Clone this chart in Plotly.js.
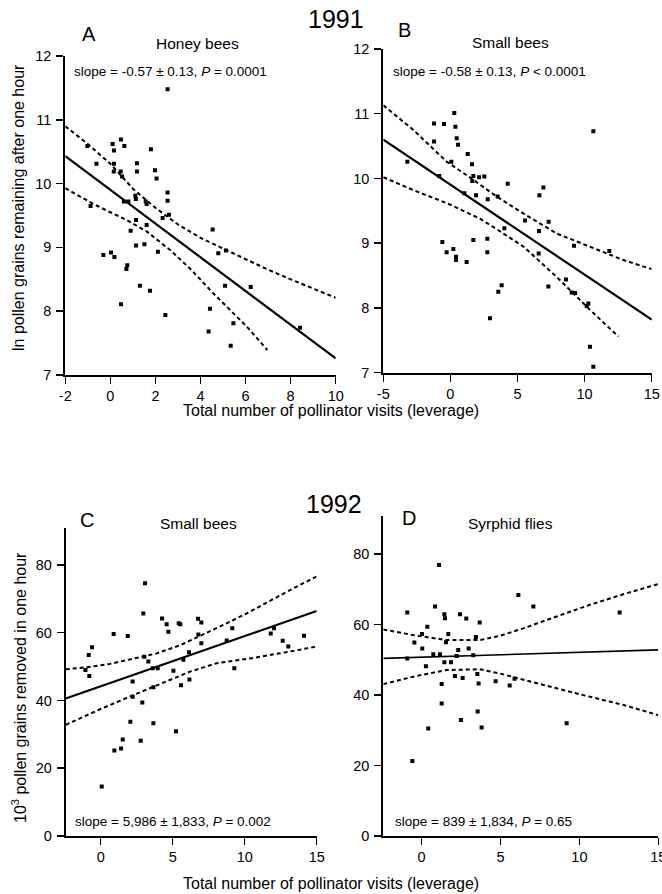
<!DOCTYPE html>
<html>
<head>
<meta charset="utf-8">
<script src="https://cdn.plot.ly/plotly-3.0.1.min.js"></script>
<style>html,body{margin:0;padding:0;background:#fff;}#chart{width:662px;height:894px;}</style>
</head>
<body>
<div id="chart"></div>
<script>
// ---------- Panel A: 1991, Honey bees ----------
const aX = [2.54,-1.02,-0.62,0.10,0.16,0.16,0.15,0.47,0.62,0.46,0.52,0.60,0.80,1.18,1.18,1.80,1.98,2.05,2.54,2.54,2.60,1.11,1.57,-0.88,1.14,1.61,0.90,2.32,4.54,4.79,5.13,1.14,1.51,2.11,-0.31,0.03,0.18,0.75,0.71,1.31,1.76,5.09,6.23,0.47,2.44,4.42,4.36,5.46,5.34,8.42,1.13,1.61];
const aY = [11.48,10.59,10.31,10.62,10.52,10.31,10.19,10.69,10.59,10.19,10.11,9.72,9.72,10.32,10.19,10.54,10.21,10.08,9.86,9.73,9.51,9.81,9.72,9.65,9.43,9.35,9.26,9.46,9.28,8.91,8.95,9.03,9.05,8.93,8.88,8.92,8.85,8.72,8.66,8.40,8.32,8.40,8.38,8.11,7.94,8.04,7.68,7.81,7.46,7.74,9.76,9.68];
const aFitX = [-2, 10];
const aFitY = [10.43, 7.26];
const aUpX = [-2.0,-1.0,0.0,1.0,2.0,3.0,4.0,5.0,6.0,7.0,8.0,9.0,10.0];
const aUpY = [10.90,10.62,10.31,9.92,9.62,9.36,9.15,8.98,8.81,8.65,8.50,8.36,8.21];
const aLoX = [-2.0,-0.76,0.72,1.61,2.65,3.53,4.57,6.05,6.97];
const aLoY = [9.93,9.68,9.43,9.25,8.96,8.67,8.28,7.76,7.39];

// ---------- Panel B: 1991, Small bees ----------
const bX = [-3.21,-1.22,-1.22,-0.48,-0.83,0.29,0.37,0.47,0.57,0.07,1.29,1.61,1.71,1.63,2.13,2.53,1.91,1.04,2.78,3.52,4.27,6.93,6.63,10.65,5.56,6.60,7.32,4.02,1.71,2.75,-0.60,-0.28,0.22,0.42,0.42,1.21,2.75,6.58,9.21,11.84,8.61,7.30,3.82,3.57,9.04,9.29,10.28,10.16,2.95,10.40,10.65];
const bY = [10.26,10.85,10.57,10.84,10.04,11.01,10.80,10.62,10.52,10.26,10.38,10.22,10.04,9.96,10.02,10.03,9.74,9.77,9.68,9.72,9.92,9.86,9.74,10.73,9.35,9.19,9.33,9.23,9.05,9.07,9.02,8.86,8.91,8.79,8.74,8.71,8.86,8.84,8.96,8.88,8.44,8.33,8.35,8.25,8.24,8.23,8.07,8.03,7.84,7.40,7.09];
const bFitX = [-5, 15];
const bFitY = [10.60, 7.82];
const bUpX = [-5,-2.76,-0.28,1.71,3.45,5.43,7.92,10.40,12.89,15];
const bUpY = [11.13,10.75,10.26,9.98,9.72,9.46,9.15,8.95,8.74,8.60];
const bLoX = [-5,-2.76,-0.28,2.20,3.57,5.43,7.92,10.40,12.52];
const bLoY = [10.02,9.82,9.62,9.38,9.20,8.95,8.48,7.97,7.56];

// ---------- Panel C: 1992, Small bees ----------
const cX = [3.08,2.96,0.90,1.88,-0.60,-0.83,-1.06,-0.79,4.26,4.58,4.70,5.42,5.53,6.76,6.99,6.78,6.99,3.03,3.31,3.61,3.96,5.05,5.74,6.13,2.22,3.66,5.58,6.16,2.22,2.89,2.06,3.66,5.23,1.53,2.78,0.95,1.41,0.07,8.75,9.14,9.28,11.81,12.04,12.64,13.03,14.12];
const cY = [74.6,65.7,59.6,59.0,55.7,53.4,49.0,47.2,64.2,62.5,60.3,62.8,62.5,64.1,63.0,59.5,56.9,52.9,51.5,49.5,49.5,48.8,52.0,54.2,45.6,43.9,44.5,46.2,41.1,39.4,33.7,33.3,30.9,28.5,28.1,25.2,25.8,14.6,57.7,61.3,49.5,59.8,61.3,57.6,55.9,59.1];
const cFitX = [-2.43, 15];
const cFitY = [40.6, 66.4];
const cUpX = [-2.43,-0.97,0.65,2.27,3.89,5.51,6.90,8.52,10.14,11.76,13.38,15];
const cUpY = [49.2,49.8,50.8,52.4,53.9,56.3,59.0,62.3,65.7,69.5,73.1,76.6];
const cLoX = [-2.43,-0.05,2.27,4.58,6.20,8.06,10.37,12.68,15];
const cLoY = [32.8,37.4,41.6,45.6,48.5,51.0,52.4,54.1,55.9];

// ---------- Panel D: 1992, Syrphid flies ----------
const dX = [1.10,-0.91,0.85,1.44,1.48,2.43,2.83,3.68,0.36,0.02,-0.46,1.69,1.54,3.44,0.04,2.32,2.98,0.74,1.16,2.22,3.27,-0.91,0.27,1.44,1.86,2.11,2.60,3.53,3.61,1.27,4.69,5.58,5.89,6.13,7.08,12.55,1.27,3.55,0.42,2.49,3.80,9.19,-0.59];
const dY = [76.9,63.4,65.1,62.9,61.8,62.9,61.7,60.6,59.4,57.3,54.9,57.3,55.0,56.5,53.2,52.8,53.2,51.6,51.6,51.1,51.3,50.4,48.2,49.3,49.3,45.4,44.8,46.0,43.3,43.1,43.9,42.7,44.6,68.4,65.1,63.4,37.6,35.3,30.5,32.9,30.8,32.0,21.3];
const dFitX = [-2.43, 15];
const dFitY = [50.4, 52.8];
const dUpX = [-2.43,-0.53,1.58,3.70,4.96,6.44,8.56,10.67,12.78,15];
const dUpY = [58.6,57.0,55.6,55.6,56.8,58.9,62.3,65.6,68.6,71.5];
const dLoX = [-2.43,-0.53,1.58,3.70,4.96,6.44,8.56,10.67,12.78,15];
const dLoY = [43.1,45.2,47.1,47.3,46.1,44.3,41.9,39.5,37.2,34.3];

// ---------- tick labels ----------
const aXTicks = [-2,0,2,4,6,8,10];
const aYTicks = [7,8,9,10,11,12];
const bXTicks = [-5,0,5,10,15];
const bYTicks = [7,8,9,10,11,12];
const cdXTicks = [0,5,10,15];
const cdYTicks = [0,20,40,60,80];

const FONT = "Liberation Sans, Arial, Helvetica, sans-serif";
const W = 662, H = 894;
const px = v => v / W;
const py = v => 1 - v / H;

function panel(xs, ys, fx, fy, ux, uy, lx, ly, xa, ya, fitW) {
  return [
    {x: ux, y: uy, xaxis: xa, yaxis: ya, mode: 'lines', type: 'scatter',
     line: {color: '#000', width: 2, dash: '4px,3px'}, hoverinfo: 'skip'},
    {x: lx, y: ly, xaxis: xa, yaxis: ya, mode: 'lines', type: 'scatter',
     line: {color: '#000', width: 2, dash: '4px,3px'}, hoverinfo: 'skip'},
    {x: fx, y: fy, xaxis: xa, yaxis: ya, mode: 'lines', type: 'scatter',
     line: {color: '#000', width: fitW}, hoverinfo: 'skip'},
    {x: xs, y: ys, xaxis: xa, yaxis: ya, mode: 'markers', type: 'scatter',
     marker: {symbol: 'square', size: 4, color: '#000'}, hoverinfo: 'skip'}
  ];
}

const data = [].concat(
  panel(aX, aY, aFitX, aFitY, aUpX, aUpY, aLoX, aLoY, 'x', 'y', 2.2),
  panel(bX, bY, bFitX, bFitY, bUpX, bUpY, bLoX, bLoY, 'x2', 'y2', 2.2),
  panel(cX, cY, cFitX, cFitY, cUpX, cUpY, cLoX, cLoY, 'x3', 'y3', 2.2),
  panel(dX, dY, dFitX, dFitY, dUpX, dUpY, dLoX, dLoY, 'x4', 'y4', 1.6)
);

function ax(domain, range, ticks, anchor, standoff) {
  const o = {
    domain: domain, range: range, tickvals: ticks, ticktext: ticks.map(String),
    ticks: 'outside', ticklen: 7, tickwidth: 1.5, tickcolor: '#000',
    showline: true, linewidth: 2, linecolor: '#000',
    showgrid: false, zeroline: false, anchor: anchor, fixedrange: true,
    ticklabeloverflow: 'allow',
    tickfont: {family: FONT, size: 14.5, color: '#000'}
  };
  if (standoff) o.ticklabelstandoff = standoff;
  return o;
}

const layout = {
  width: W, height: H,
  margin: {l: 0, r: 0, t: 0, b: 0},
  paper_bgcolor: '#fff', plot_bgcolor: 'rgba(0,0,0,0)',
  showlegend: false,
  xaxis:  ax([px(65.3), px(335.7)], [-2, 10], aXTicks, 'y', 0),
  yaxis:  ax([py(375), py(56)], [7, 12], aYTicks, 'x', 2),
  xaxis2: ax([px(383.3), px(651.7)], [-5, 15], bXTicks, 'y2', 0),
  yaxis2: ax([py(372.7), py(49)], [7, 12], bYTicks, 'x2', 2),
  xaxis3: ax([px(65.7), px(316.7)], [-2.43, 15], cdXTicks, 'y3', 0),
  yaxis3: ax([py(836), py(528)], [0, 90.9], cdYTicks, 'x3', 2),
  xaxis4: ax([px(383.3), px(658.3)], [-2.43, 15], cdXTicks, 'y4', 0),
  yaxis4: ax([py(836), py(516)], [0, 90.8], cdYTicks, 'x4', 2),
  annotations: []
};

function ann(text, x, y, size, opts) {
  return Object.assign({
    text: text, x: px(x), y: py(y), xref: 'paper', yref: 'paper',
    showarrow: false, xanchor: 'center', yanchor: 'middle',
    font: {family: FONT, size: size, color: '#000'}
  }, opts || {});
}

const xTitle = 'Total number of pollinator visits (leverage)';
layout.annotations = [
  ann('1991', 336, 19, 25),
  ann('A', 88.5, 33.5, 20),
  ann('Honey bees', 197, 44, 15.5),
  ann('slope = -0.57 ± 0.13, <i>P</i> = 0.0001', 72, 71.5, 13.5, {xanchor: 'left'}),
  ann('B', 404.5, 30.5, 20),
  ann('Small bees', 510, 43, 15.5),
  ann('slope = -0.58 ± 0.13, <i>P</i> < 0.0001', 391, 71.5, 13.5, {xanchor: 'left'}),
  ann('ln pollen grains remaining after one hour', 19, 208, 16, {textangle: -90}),
  ann(xTitle, 331, 410, 16, {borderpad: 0}),
  ann('1992', 334, 504, 25),
  ann('C', 86.5, 519.5, 20),
  ann('Small bees', 198, 523.5, 15.5),
  ann('slope = 5,986 ± 1,833, <i>P</i> = 0.002', 73, 821.5, 13.5, {xanchor: 'left'}),
  ann('D', 408.5, 517.5, 20),
  ann('Syrphid flies', 511, 523, 15.5),
  ann('slope = 839 ± 1,834, <i>P</i> = 0.65', 393, 821.5, 13.5, {xanchor: 'left'}),
  ann('10<sup>3</sup> pollen grains removed in one hour', 19, 688, 16, {textangle: -90}),
  ann(xTitle, 331, 883, 16)
];

Plotly.newPlot('chart', data, layout, {staticPlot: true, displayModeBar: false});
</script>
</body>
</html>
